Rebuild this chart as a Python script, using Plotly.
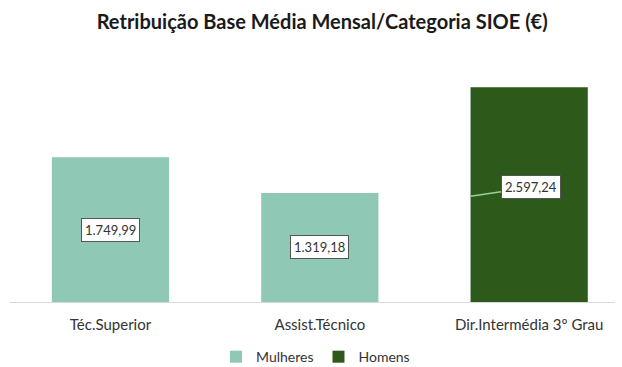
import plotly.graph_objects as go

categories = ["Téc.Superior", "Assist.Técnico", "Dir.Intermédia 3º Grau"]
series_names = ["Mulheres", "Homens"]
mulheres_cats = ["Téc.Superior", "Assist.Técnico"]
mulheres_vals = [1749.99, 1319.18]
homens_cats = ["Dir.Intermédia 3º Grau"]
homens_vals = [2597.24]
value_labels = ["1.749,99", "1.319,18", "2.597,24"]

c_m = "#8fc8b5"
c_h = "#2d5a1b"
font = "Lato, 'Open Sans', sans-serif"

fig = go.Figure()
fig.add_trace(go.Bar(name=series_names[0], x=mulheres_cats, y=mulheres_vals,
                     marker=dict(color=c_m, line=dict(width=0)), width=0.56))
fig.add_trace(go.Bar(name=series_names[1], x=homens_cats, y=homens_vals,
                     marker=dict(color=c_h, line=dict(width=0)), width=0.56))

all_vals = mulheres_vals + homens_vals
for i, (cat, v, lab) in enumerate(zip(categories, all_vals, value_labels)):
    ann = dict(x=cat, y=v / 2, text=lab, showarrow=False,
               font=dict(family=font, size=13, color="#333333"),
               bgcolor="white", bordercolor="#555555", borderwidth=1, borderpad=3)
    if i == 2:
        ann.update(x=i - 0.28, y=v / 2 - 20, showarrow=True, arrowhead=0,
                   arrowcolor="#9ccf9a", arrowwidth=1.5, ax=60, ay=-9,
                   xref="x", yref="y")
    fig.add_annotation(**ann)

fig.update_layout(
    width=622, height=367,
    margin=dict(l=10, r=7, t=54, b=65),
    paper_bgcolor="white", plot_bgcolor="white",
    barmode="overlay",
    title=dict(text="<b>Retribuição Base Média Mensal/Categoria SIOE (€)</b>",
               x=0.518, xanchor="center", y=0.94, yanchor="middle",
               font=dict(family=font, size=20, color="#1a1a1a")),
    showlegend=True,
    legend=dict(orientation="h", x=0.505, xanchor="center",
                yref="container", y=0.027, yanchor="middle",
                font=dict(family=font, size=14, color="#333333"),
                itemwidth=30, traceorder="normal"),
    xaxis=dict(type="category", categoryorder="array", categoryarray=categories,
               range=[-0.48, 2.41], showline=True, linecolor="#d9d9d9", linewidth=1,
               ticks="", ticklabelstandoff=9, automargin=False,
               tickfont=dict(family=font, size=15, color="#333333"),
               showgrid=False),
    yaxis=dict(range=[0, 3000], visible=False, showgrid=False, zeroline=False,
               automargin=False),
)

fig.write_html("out.html")
